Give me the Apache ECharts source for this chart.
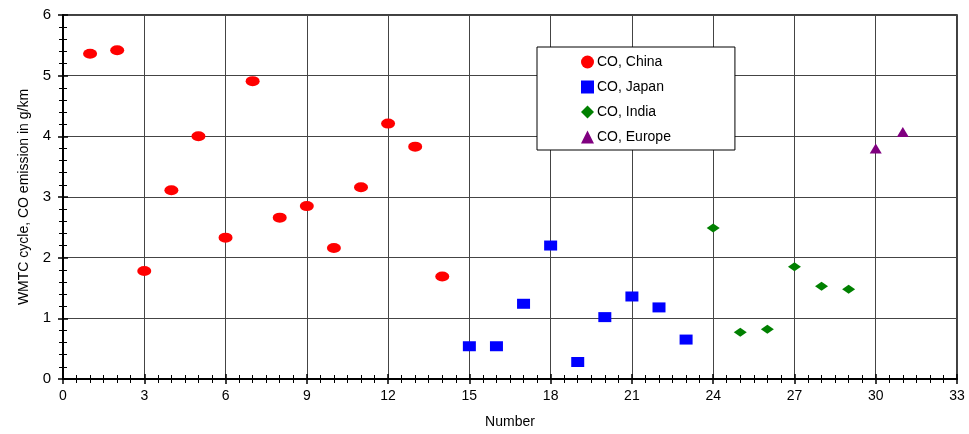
<!DOCTYPE html>
<html><head><meta charset="utf-8">
<script src="https://cdn.jsdelivr.net/npm/echarts@6/dist/echarts.min.js"></script>
<style>html,body{margin:0;padding:0;background:#fff}#c{width:969px;height:434px}</style>
</head><body><div id="c"></div>
<script>
const chinaX = [1,2,3,4,5,6,7,8,9,10,11,12,13,14];
const chinaY = [5.36,5.42,1.78,3.11,4.00,2.33,4.91,2.66,2.85,2.16,3.16,4.21,3.83,1.69];
const japanX = [15,16,17,18,19,20,21,22,23];
const japanY = [0.54,0.54,1.24,2.20,0.28,1.02,1.36,1.18,0.65];
const indiaX = [24,25,26,27,28,29];
const indiaY = [2.49,0.77,0.82,1.85,1.53,1.48];
const europeX = [30,31];
const europeY = [3.80,4.07];
const seriesNames = ['CO, China','CO, Japan','CO, India','CO, Europe'];
const xTitle = 'Number';
const yTitle = 'WMTC cycle, CO emission in g/km';

const pair = (xs, ys) => xs.map((x, i) => [x, ys[i]]);
const font = 'Liberation Sans, Arial, sans-serif';
const chart = echarts.init(document.getElementById('c'));
const common = {
  axisLine: {show: true, onZero: false, lineStyle: {color: '#000', width: 2}},
  minorTick: {show: true, lineStyle: {color: '#000', width: 1}},
};
chart.setOption({
  animation: false,
  backgroundColor: '#fff',
  grid: {left: 63, right: 12, top: 15, bottom: 55, show: true, borderColor: '#000', borderWidth: 1.5},
  legend: {
    orient: 'vertical', left: 537, top: 47,
    padding: [8, 64, 6, 44],
    borderColor: '#000', borderWidth: 1, backgroundColor: '#fff',
    itemGap: 11, itemWidth: 13, itemHeight: 13,
    textStyle: {fontFamily: font, fontSize: 14, color: '#000', padding: [0,0,0,-2]},
    data: [
      {name: seriesNames[0], icon: 'circle'},
      {name: seriesNames[1], icon: 'rect'},
      {name: seriesNames[2], icon: 'diamond'},
      {name: seriesNames[3], icon: 'triangle'}
    ]
  },
  xAxis: [
    Object.assign({}, common, {
      type: 'value', min: 0, max: 33, interval: 3, position: 'bottom',
      name: xTitle, nameLocation: 'middle', nameGap: 36,
      nameTextStyle: {fontFamily: font, fontSize: 14, color: '#000'},
      axisTick: {show: true, inside: false, length: 5, lineStyle: {color: '#000', width: 1.5}},
      minorTick: {show: true, splitNumber: 6, length: 4, lineStyle: {color: '#000'}},
      axisLabel: {fontFamily: font, fontSize: 14, color: '#000', margin: 10},
      splitLine: {show: true, lineStyle: {color: '#444', width: 1}}
    }),
    Object.assign({}, common, {
      type: 'value', min: 0, max: 33, interval: 3, position: 'bottom',
      axisLine: {show: false},
      axisTick: {show: true, inside: true, length: 5, lineStyle: {color: '#000', width: 1.5}},
      minorTick: {show: true, splitNumber: 6, length: 4, lineStyle: {color: '#000'}},
      axisLabel: {show: false}, splitLine: {show: false}
    })
  ],
  yAxis: [
    Object.assign({}, common, {
      type: 'value', min: 0, max: 6, interval: 1, position: 'left',
      name: yTitle, nameLocation: 'middle', nameGap: 32,
      nameTextStyle: {fontFamily: font, fontSize: 14, color: '#000'},
      axisTick: {show: true, inside: false, length: 5, lineStyle: {color: '#000', width: 1.5}},
      minorTick: {show: true, splitNumber: 5, length: 4, lineStyle: {color: '#000'}},
      axisLabel: {fontFamily: font, fontSize: 15, color: '#000', margin: 12},
      splitLine: {show: true, lineStyle: {color: '#444', width: 1}}
    }),
    Object.assign({}, common, {
      type: 'value', min: 0, max: 6, interval: 1, position: 'left',
      axisLine: {show: false},
      axisTick: {show: true, inside: true, length: 5, lineStyle: {color: '#000', width: 1.5}},
      minorTick: {show: true, splitNumber: 5, length: 4, lineStyle: {color: '#000'}},
      axisLabel: {show: false}, splitLine: {show: false}
    })
  ],
  series: [
    {name: seriesNames[0], type: 'scatter', symbol: 'circle', symbolSize: [14, 10],
     itemStyle: {color: '#ff0000', opacity: 1}, data: pair(chinaX, chinaY)},
    {name: seriesNames[1], type: 'scatter', symbol: 'rect', symbolSize: [13, 10],
     itemStyle: {color: '#0000ff', opacity: 1}, data: pair(japanX, japanY)},
    {name: seriesNames[2], type: 'scatter', symbol: 'diamond', symbolSize: [13, 9],
     itemStyle: {color: '#008000', opacity: 1}, data: pair(indiaX, indiaY)},
    {name: seriesNames[3], type: 'scatter', symbol: 'triangle', symbolSize: [12, 10],
     itemStyle: {color: '#800080', opacity: 1}, data: pair(europeX, europeY)}
  ]
});
</script></body></html>
